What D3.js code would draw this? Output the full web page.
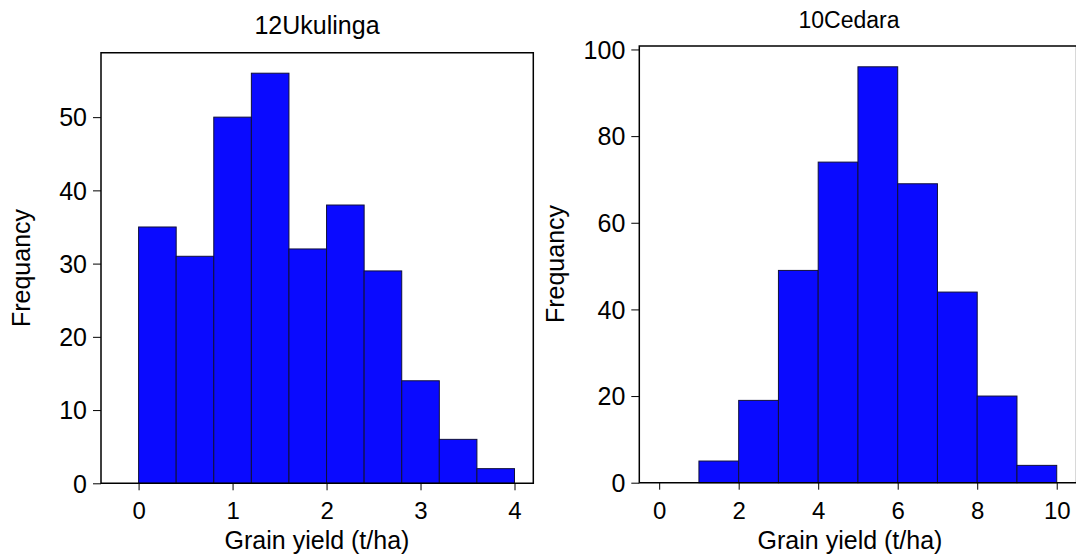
<!DOCTYPE html>
<html>
<head>
<meta charset="utf-8">
<script src="https://cdn.jsdelivr.net/npm/d3@7"></script>
<style>
  html, body { margin: 0; padding: 0; background: #fff; }
  svg { display: block; }
  text { font-family: "Liberation Sans", Arial, sans-serif; fill: #000; }
</style>
</head>
<body>
<svg id="chart" width="1076" height="554"></svg>
<script>
// ---- Data ----
const ukulingaTitle = "12Ukulinga";
const ukulingaBinEdges = [0, 0.4, 0.8, 1.2, 1.6, 2.0, 2.4, 2.8, 3.2, 3.6, 4.0];
const ukulingaCounts = [35, 31, 50, 56, 32, 38, 29, 14, 6, 2];
const ukulingaXTicks = [0, 1, 2, 3, 4];
const ukulingaYTicks = [0, 10, 20, 30, 40, 50];

const cedaraTitle = "10Cedara";
const cedaraBinEdges = [0, 1, 2, 3, 4, 5, 6, 7, 8, 9, 10];
const cedaraCounts = [0, 5, 19, 49, 74, 96, 69, 44, 20, 4];
const cedaraXTicks = [0, 2, 4, 6, 8, 10];
const cedaraYTicks = [0, 20, 40, 60, 80, 100];

const xLabel = "Grain yield (t/ha)";
const yLabel = "Frequancy";

const svg = d3.select("#chart");

function drawHist(cfg) {
  const g = svg.append("g");
  const x = d3.scaleLinear().domain(cfg.xDomain).range([cfg.left, cfg.right]);
  const y = d3.scaleLinear().domain(cfg.yDomain).range([cfg.bottom, cfg.top]);

  const bins = cfg.counts.map((c, i) => ({ x0: cfg.edges[i], x1: cfg.edges[i + 1], c }));
  g.selectAll("rect.bar").data(bins.filter(d => d.c > 0)).enter().append("rect")
    .attr("class", "bar")
    .attr("x", d => x(d.x0))
    .attr("y", d => y(d.c))
    .attr("width", d => x(d.x1) - x(d.x0))
    .attr("height", d => y(0) - y(d.c))
    .attr("fill", "#0a0aff")
    .attr("stroke", "#10103a")
    .attr("stroke-width", 1);

  g.append("path")
    .attr("d", `M${cfg.left},${cfg.bottom}V${cfg.top}H${cfg.right}V${cfg.bottom}Z`)
    .attr("fill", "none").attr("stroke", "#000").attr("stroke-width", 1.5);

  const yAxis = d3.axisLeft(y).tickValues(cfg.yTicks).tickSize(8).tickPadding(6)
    .tickSizeOuter(0).tickFormat(d3.format("d"));
  const ya = g.append("g").attr("transform", `translate(${cfg.left},0)`).call(yAxis);
  ya.select(".domain").remove();
  ya.selectAll("text").style("font-size", "25px").attr("fill", "#000")
    .attr("dy", "0.35em");
  ya.selectAll("line").attr("stroke", "#000");

  const xAxis = d3.axisBottom(x).tickValues(cfg.xTicks).tickSize(7).tickPadding(12)
    .tickSizeOuter(0).tickFormat(d3.format("d"));
  const xa = g.append("g").attr("transform", `translate(0,${cfg.bottom})`).call(xAxis);
  xa.select(".domain").remove();
  xa.selectAll("text").style("font-size", "24px").attr("fill", "#000");
  xa.selectAll("line").attr("stroke", "#000");

  g.append("text").attr("x", cfg.titleX).attr("y", cfg.titleY)
    .attr("text-anchor", "middle").style("font-size", cfg.titleSize).text(cfg.title);

  g.append("text").attr("x", cfg.xLabelX).attr("y", 548.5)
    .attr("text-anchor", "middle").style("font-size", "25px").text(xLabel);

  g.append("text")
    .attr("transform", `translate(${cfg.yLabelX},${cfg.yLabelY}) rotate(-90)`)
    .attr("text-anchor", "middle").style("font-size", "25px").text(yLabel);
}

drawHist({
  title: ukulingaTitle, edges: ukulingaBinEdges, counts: ukulingaCounts,
  xTicks: ukulingaXTicks, yTicks: ukulingaYTicks,
  xDomain: [-0.4, 4.2], yDomain: [0, 58.8],
  left: 101, right: 533.3, top: 52.7, bottom: 483.3,
  titleX: 317, titleY: 34, titleSize: "25px",
  xLabelX: 317, yLabelX: 30, yLabelY: 268
});

drawHist({
  title: cedaraTitle, edges: cedaraBinEdges, counts: cedaraCounts,
  xTicks: cedaraXTicks, yTicks: cedaraYTicks,
  xDomain: [-0.5, 10.5], yDomain: [0, 100.8],
  left: 639.3, right: 1076.6, top: 46, bottom: 482.7,
  titleX: 849, titleY: 28, titleSize: "23px",
  xLabelX: 850, yLabelX: 564, yLabelY: 264
});
</script>
</body>
</html>
